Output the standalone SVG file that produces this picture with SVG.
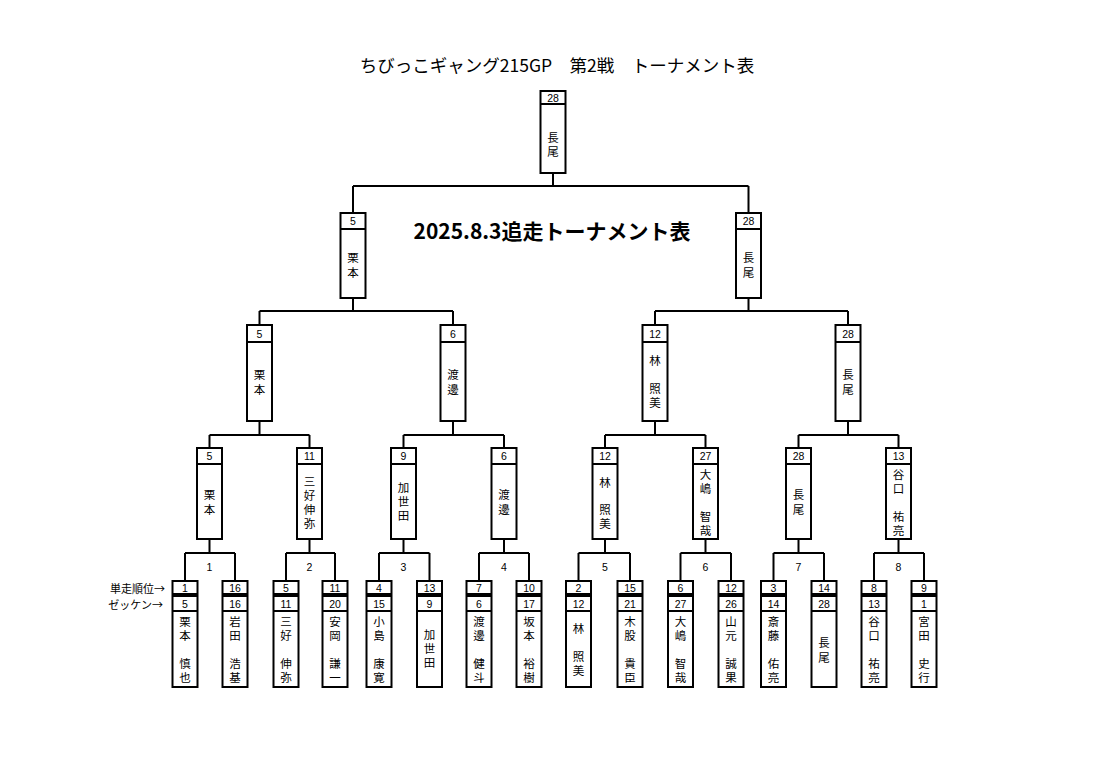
<svg xmlns="http://www.w3.org/2000/svg" width="1116" height="784" viewBox="0 0 1116 784">
<style>
.b{fill:#fff;stroke:#000;stroke-width:2}
.s{stroke:#000;stroke-width:2;fill:none}
.n{font-family:"Liberation Sans","Noto Sans CJK JP",sans-serif;font-size:10.5px;text-anchor:middle;dominant-baseline:central;fill:#000}
.j{font-family:"Noto Sans CJK JP",sans-serif;font-size:11.5px;text-anchor:middle;dominant-baseline:central;fill:#000}
.t{font-family:"Noto Sans CJK JP",sans-serif;font-size:17.5px;text-anchor:middle;dominant-baseline:central;fill:#000}
.st{font-family:"Noto Sans CJK JP",sans-serif;font-size:21px;font-weight:bold;text-anchor:middle;dominant-baseline:central;fill:#000}
.l{font-family:"Noto Sans CJK JP",sans-serif;font-size:11px;text-anchor:end;dominant-baseline:central;fill:#000}
</style>
<defs>
<g id="leafbox">
<rect class="b" x="-12.5" y="581" width="25" height="13"/><rect class="b" x="-12.5" y="596" width="25" height="91"/><path class="s" d="M-12.5 611H12.5"/>
</g>
</defs>
<rect width="1116" height="784" fill="#fff"/>
<text class="t" x="557" y="64">ちびっこギャング215GP　第2戦　トーナメント表</text>
<text class="st" x="552" y="230">2025.8.3追走トーナメント表</text>
<text class="l" x="165" y="588">単走順位→</text>
<text class="l" x="163" y="603.5">ゼッケン→</text>

<g id="connectors">
<path class="s" d="M553 173V186M353 186H748.5M353 186V213M748.5 186V213"/>
<path class="s" d="M353 298V311M259.5 311H453M259.5 311V325M453 311V325"/>
<path class="s" d="M748.5 298V311M655 311H848M655 311V325M848 311V325"/>
<path class="s" d="M259.5 421V435M209.5 435H309.5M209.5 435V448M309.5 435V448"/>
<path class="s" d="M453 421V435M403.5 435H504M403.5 435V448M504 435V448"/>
<path class="s" d="M655 421V435M605 435H705.5M605 435V448M705.5 435V448"/>
<path class="s" d="M848 421V435M798.5 435H898.5M798.5 435V448M898.5 435V448"/>
<path class="s" d="M209.5 539V553M185 553H235M185 553V581M235 553V581"/>
<path class="s" d="M309.5 539V553M286 553H335M286 553V581M335 553V581"/>
<path class="s" d="M403.5 539V553M379 553H429.5M379 553V581M429.5 553V581"/>
<path class="s" d="M504 539V553M479 553H529M479 553V581M529 553V581"/>
<path class="s" d="M605 539V553M578.5 553H630M578.5 553V581M630 553V581"/>
<path class="s" d="M705.5 539V553M680.5 553H731M680.5 553V581M731 553V581"/>
<path class="s" d="M798.5 539V553M773.5 553H824M773.5 553V581M824 553V581"/>
<path class="s" d="M898.5 539V553M874 553H924M874 553V581M924 553V581"/>
<text class="n" x="209.5" y="567">1</text>
<text class="n" x="309.5" y="567">2</text>
<text class="n" x="403.5" y="567">3</text>
<text class="n" x="504" y="567">4</text>
<text class="n" x="605" y="567">5</text>
<text class="n" x="705.5" y="567">6</text>
<text class="n" x="798.5" y="567">7</text>
<text class="n" x="898.5" y="567">8</text>
</g>

<g id="final">
<rect class="b" x="540.5" y="91" width="25" height="82"/><path class="s" d="M540.5 104H565.5"/>
<text class="n" x="553" y="97.5">28</text>
<text class="j"><tspan x="553" y="136.5">長</tspan><tspan x="553" y="150.5">尾</tspan></text>
</g>

<g id="semi-1">
<rect class="b" x="340.5" y="213" width="25" height="85"/><path class="s" d="M340.5 229H365.5"/>
<text class="n" x="353" y="221">5</text>
<text class="j"><tspan x="353" y="256.5">栗</tspan><tspan x="353" y="271.5">本</tspan></text>
</g>
<g id="semi-2">
<rect class="b" x="736" y="213" width="25" height="85"/><path class="s" d="M736 229H761"/>
<text class="n" x="748.5" y="221">28</text>
<text class="j"><tspan x="748.5" y="256.5">長</tspan><tspan x="748.5" y="271.5">尾</tspan></text>
</g>

<g id="qf-1">
<rect class="b" x="247" y="325" width="25" height="96"/><path class="s" d="M247 342H272"/>
<text class="n" x="259.5" y="333.5">5</text>
<text class="j"><tspan x="259.5" y="374">栗</tspan><tspan x="259.5" y="389">本</tspan></text>
</g>
<g id="qf-2">
<rect class="b" x="440.5" y="325" width="25" height="96"/><path class="s" d="M440.5 342H465.5"/>
<text class="n" x="453" y="333.5">6</text>
<text class="j"><tspan x="453" y="374">渡</tspan><tspan x="453" y="389">邊</tspan></text>
</g>
<g id="qf-3">
<rect class="b" x="642.5" y="325" width="25" height="96"/><path class="s" d="M642.5 342H667.5"/>
<text class="n" x="655" y="333.5">12</text>
<text class="j"><tspan x="655" y="360">林</tspan><tspan x="655" y="388">照</tspan><tspan x="655" y="402">美</tspan></text>
</g>
<g id="qf-4">
<rect class="b" x="835.5" y="325" width="25" height="96"/><path class="s" d="M835.5 342H860.5"/>
<text class="n" x="848" y="333.5">28</text>
<text class="j"><tspan x="848" y="374">長</tspan><tspan x="848" y="389">尾</tspan></text>
</g>

<g id="r2-1">
<rect class="b" x="197" y="448" width="25" height="91"/><path class="s" d="M197 464H222"/>
<text class="n" x="209.5" y="456">5</text>
<text class="j"><tspan x="209.5" y="494">栗</tspan><tspan x="209.5" y="509">本</tspan></text>
</g>
<g id="r2-2">
<rect class="b" x="297" y="448" width="25" height="91"/><path class="s" d="M297 464H322"/>
<text class="n" x="309.5" y="456">11</text>
<text class="j"><tspan x="309.5" y="481">三</tspan><tspan x="309.5" y="495">好</tspan><tspan x="309.5" y="509">伸</tspan><tspan x="309.5" y="523">弥</tspan></text>
</g>
<g id="r2-3">
<rect class="b" x="391" y="448" width="25" height="91"/><path class="s" d="M391 464H416"/>
<text class="n" x="403.5" y="456">9</text>
<text class="j"><tspan x="403.5" y="487">加</tspan><tspan x="403.5" y="501">世</tspan><tspan x="403.5" y="515">田</tspan></text>
</g>
<g id="r2-4">
<rect class="b" x="491.5" y="448" width="25" height="91"/><path class="s" d="M491.5 464H516.5"/>
<text class="n" x="504" y="456">6</text>
<text class="j"><tspan x="504" y="494">渡</tspan><tspan x="504" y="509">邊</tspan></text>
</g>
<g id="r2-5">
<rect class="b" x="592.5" y="448" width="25" height="91"/><path class="s" d="M592.5 464H617.5"/>
<text class="n" x="605" y="456">12</text>
<text class="j"><tspan x="605" y="481.5">林</tspan><tspan x="605" y="508.5">照</tspan><tspan x="605" y="522.5">美</tspan></text>
</g>
<g id="r2-6">
<rect class="b" x="693" y="448" width="25" height="91"/><path class="s" d="M693 464H718"/>
<text class="n" x="705.5" y="456">27</text>
<text class="j"><tspan x="705.5" y="473.5">大</tspan><tspan x="705.5" y="487.5">嶋</tspan><tspan x="705.5" y="515.5">智</tspan><tspan x="705.5" y="529.5">哉</tspan></text>
</g>
<g id="r2-7">
<rect class="b" x="786" y="448" width="25" height="91"/><path class="s" d="M786 464H811"/>
<text class="n" x="798.5" y="456">28</text>
<text class="j"><tspan x="798.5" y="494">長</tspan><tspan x="798.5" y="509">尾</tspan></text>
</g>
<g id="r2-8">
<rect class="b" x="886" y="448" width="25" height="91"/><path class="s" d="M886 464H911"/>
<text class="n" x="898.5" y="456">13</text>
<text class="j"><tspan x="898.5" y="473.5">谷</tspan><tspan x="898.5" y="487.5">口</tspan><tspan x="898.5" y="515.5">祐</tspan><tspan x="898.5" y="529.5">亮</tspan></text>
</g>

<g id="leaf-1"><use href="#leafbox" x="185"/>
<text class="n" x="185" y="587.5">1</text><text class="n" x="185" y="603.5">5</text>
<text class="j"><tspan x="185" y="621">栗</tspan><tspan x="185" y="635">本</tspan><tspan x="185" y="663">慎</tspan><tspan x="185" y="677">也</tspan></text>
</g>
<g id="leaf-2"><use href="#leafbox" x="235"/>
<text class="n" x="235" y="587.5">16</text><text class="n" x="235" y="603.5">16</text>
<text class="j"><tspan x="235" y="621">岩</tspan><tspan x="235" y="635">田</tspan><tspan x="235" y="663">浩</tspan><tspan x="235" y="677">基</tspan></text>
</g>
<g id="leaf-3"><use href="#leafbox" x="286"/>
<text class="n" x="286" y="587.5">5</text><text class="n" x="286" y="603.5">11</text>
<text class="j"><tspan x="286" y="621">三</tspan><tspan x="286" y="635">好</tspan><tspan x="286" y="663">伸</tspan><tspan x="286" y="677">弥</tspan></text>
</g>
<g id="leaf-4"><use href="#leafbox" x="335"/>
<text class="n" x="335" y="587.5">11</text><text class="n" x="335" y="603.5">20</text>
<text class="j"><tspan x="335" y="621">安</tspan><tspan x="335" y="635">岡</tspan><tspan x="335" y="663">謙</tspan><tspan x="335" y="677">一</tspan></text>
</g>
<g id="leaf-5"><use href="#leafbox" x="379"/>
<text class="n" x="379" y="587.5">4</text><text class="n" x="379" y="603.5">15</text>
<text class="j"><tspan x="379" y="621">小</tspan><tspan x="379" y="635">島</tspan><tspan x="379" y="663">康</tspan><tspan x="379" y="677">寛</tspan></text>
</g>
<g id="leaf-6"><use href="#leafbox" x="429.5"/>
<text class="n" x="429.5" y="587.5">13</text><text class="n" x="429.5" y="603.5">9</text>
<text class="j"><tspan x="429.5" y="634">加</tspan><tspan x="429.5" y="648">世</tspan><tspan x="429.5" y="662">田</tspan></text>
</g>
<g id="leaf-7"><use href="#leafbox" x="479"/>
<text class="n" x="479" y="587.5">7</text><text class="n" x="479" y="603.5">6</text>
<text class="j"><tspan x="479" y="621">渡</tspan><tspan x="479" y="635">邊</tspan><tspan x="479" y="663">健</tspan><tspan x="479" y="677">斗</tspan></text>
</g>
<g id="leaf-8"><use href="#leafbox" x="529"/>
<text class="n" x="529" y="587.5">10</text><text class="n" x="529" y="603.5">17</text>
<text class="j"><tspan x="529" y="621">坂</tspan><tspan x="529" y="635">本</tspan><tspan x="529" y="663">裕</tspan><tspan x="529" y="677">樹</tspan></text>
</g>
<g id="leaf-9"><use href="#leafbox" x="578.5"/>
<text class="n" x="578.5" y="587.5">2</text><text class="n" x="578.5" y="603.5">12</text>
<text class="j"><tspan x="578.5" y="628">林</tspan><tspan x="578.5" y="656">照</tspan><tspan x="578.5" y="670">美</tspan></text>
</g>
<g id="leaf-10"><use href="#leafbox" x="630"/>
<text class="n" x="630" y="587.5">15</text><text class="n" x="630" y="603.5">21</text>
<text class="j"><tspan x="630" y="621">木</tspan><tspan x="630" y="635">股</tspan><tspan x="630" y="663">貴</tspan><tspan x="630" y="677">臣</tspan></text>
</g>
<g id="leaf-11"><use href="#leafbox" x="680.5"/>
<text class="n" x="680.5" y="587.5">6</text><text class="n" x="680.5" y="603.5">27</text>
<text class="j"><tspan x="680.5" y="621">大</tspan><tspan x="680.5" y="635">嶋</tspan><tspan x="680.5" y="663">智</tspan><tspan x="680.5" y="677">哉</tspan></text>
</g>
<g id="leaf-12"><use href="#leafbox" x="731"/>
<text class="n" x="731" y="587.5">12</text><text class="n" x="731" y="603.5">26</text>
<text class="j"><tspan x="731" y="621">山</tspan><tspan x="731" y="635">元</tspan><tspan x="731" y="663">誠</tspan><tspan x="731" y="677">果</tspan></text>
</g>
<g id="leaf-13"><use href="#leafbox" x="773.5"/>
<text class="n" x="773.5" y="587.5">3</text><text class="n" x="773.5" y="603.5">14</text>
<text class="j"><tspan x="773.5" y="621">斎</tspan><tspan x="773.5" y="635">藤</tspan><tspan x="773.5" y="663">佑</tspan><tspan x="773.5" y="677">亮</tspan></text>
</g>
<g id="leaf-14"><use href="#leafbox" x="824"/>
<text class="n" x="824" y="587.5">14</text><text class="n" x="824" y="603.5">28</text>
<text class="j"><tspan x="824" y="641.5">長</tspan><tspan x="824" y="656.5">尾</tspan></text>
</g>
<g id="leaf-15"><use href="#leafbox" x="874"/>
<text class="n" x="874" y="587.5">8</text><text class="n" x="874" y="603.5">13</text>
<text class="j"><tspan x="874" y="621">谷</tspan><tspan x="874" y="635">口</tspan><tspan x="874" y="663">祐</tspan><tspan x="874" y="677">亮</tspan></text>
</g>
<g id="leaf-16"><use href="#leafbox" x="924"/>
<text class="n" x="924" y="587.5">9</text><text class="n" x="924" y="603.5">1</text>
<text class="j"><tspan x="924" y="621">宮</tspan><tspan x="924" y="635">田</tspan><tspan x="924" y="663">史</tspan><tspan x="924" y="677">行</tspan></text>
</g>
</svg>
